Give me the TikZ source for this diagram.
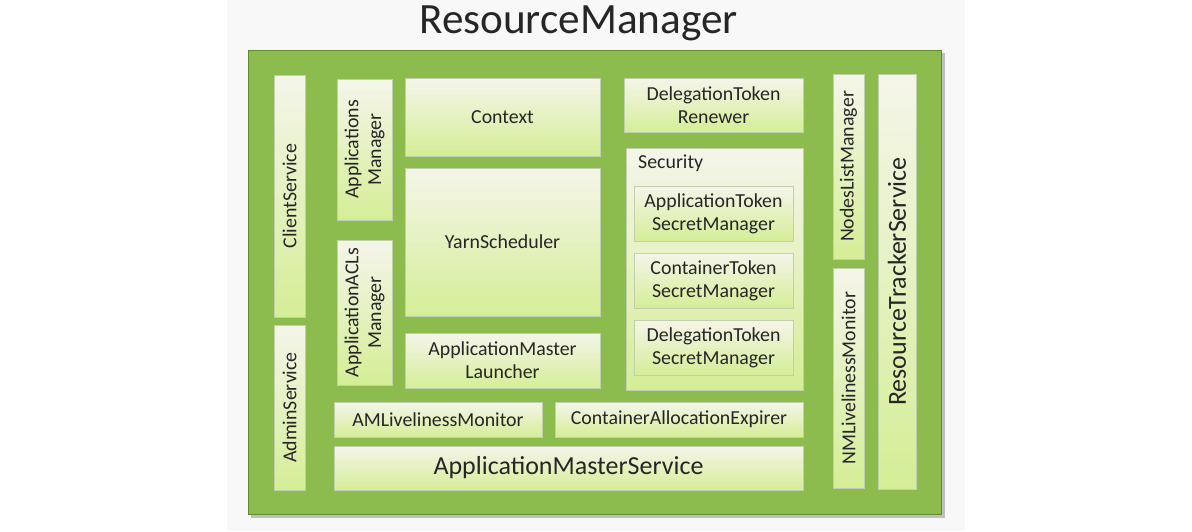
\documentclass[tikz,border=0pt]{standalone}
\usepackage{fontspec}
\setmainfont{Carlito}
\usepackage{xcolor}
\usepackage{tikz}
\usetikzlibrary{shadows}

\definecolor{rmgreen}{RGB}{141,188,78}
\definecolor{rmedge}{RGB}{98,138,48}
\definecolor{boxtop}{RGB}{245,245,234}
\definecolor{boxbot}{RGB}{212,238,150}
\definecolor{panel}{RGB}{248,248,248}
\definecolor{ink}{RGB}{38,38,38}

\begin{document}
\begin{tikzpicture}[x=0.02cm, y=-0.02cm, every node/.style={font=\fontsize{11.3}{12.9}\selectfont, text=ink}]
  % Styles
  \tikzstyle{blk}=[rectangle, draw=rmedge!40, line width=0.3pt, top color=boxtop, bottom color=boxbot, align=center, inner sep=1pt,
                   drop shadow={shadow xshift=0.6pt, shadow yshift=-0.8pt, opacity=0.35}]
  \tikzstyle{vblk}=[blk, rotate=90]
  \tikzstyle{big}=[font=\fontsize{14.8}{17}\selectfont]

  \useasboundingbox (0,0) rectangle (1192,531);
  \fill[panel] (227,0) rectangle (965,531);

  % Title and frame
  \node[anchor=base, font=\fontsize{24.6}{28}\selectfont] (title) at (578.5,33) {ResourceManager};
  \fill[black!25] (251,53) rectangle (945,518);
  \node[rectangle, draw=rmedge, line width=0.6pt, fill=rmgreen, minimum width=13.88cm, minimum height=9.3cm] (rm) at (595,282.5) {};

  % Left column
  \node[vblk, minimum width=4.84cm, minimum height=0.62cm] (client) at (289.5,196) {ClientService};
  \node[vblk, minimum width=3.3cm, minimum height=0.62cm] (admin) at (289.5,407.5) {AdminService};
  \node[vblk, minimum width=2.82cm, minimum height=1.1cm] (appsmgr) at (364.5,149.5) {Applications\\Manager};
  \node[vblk, minimum width=2.9cm, minimum height=1.1cm] (aclsmgr) at (364.5,312.5) {ApplicationACLs\\Manager};

  % Middle column
  \node[blk, minimum width=3.9cm, minimum height=1.56cm] (context) at (502.5,117) {Context};
  \node[blk, minimum width=3.9cm, minimum height=2.96cm] (sched) at (502.5,242) {YarnScheduler};
  \node[blk, minimum width=3.9cm, minimum height=1.1cm] (amlauncher) at (502.5,360.5) {ApplicationMaster\\Launcher};

  % Security
  \node[blk, minimum width=3.58cm, minimum height=1.08cm] (renewer) at (713.5,105) {DelegationToken\\Renewer};
  \node[blk, minimum width=3.54cm, minimum height=4.84cm] (security) at (714.5,269) {};
  \node[anchor=base west] (seclabel) at (632,168) {Security};
  \node[blk, minimum width=3.18cm, minimum height=1.1cm] (appsecret) at (713.5,213.5) {ApplicationToken\\SecretManager};
  \node[blk, minimum width=3.18cm, minimum height=1.1cm] (contsecret) at (713.5,280.5) {ContainerToken\\SecretManager};
  \node[blk, minimum width=3.18cm, minimum height=1.1cm] (delsecret) at (713.5,347.5) {DelegationToken\\SecretManager};

  % Bottom rows
  \node[blk, minimum width=4.16cm, minimum height=0.7cm] (amlive) at (438,419.5) {AMLivelinessMonitor};
  \node[blk, minimum width=4.96cm, minimum height=0.7cm] (expirer) at (679,419.5) {ContainerAllocationExpirer};
  \node[blk, big, minimum width=9.38cm, minimum height=0.88cm] (amservice) at (568.5,468) {ApplicationMasterService};

  % Right column
  \node[vblk, minimum width=3.7cm, minimum height=0.62cm] (nodeslist) at (848.5,166.5) {NodesListManager};
  \node[vblk, minimum width=4.4cm, minimum height=0.62cm] (nmlive) at (848.5,378) {NMLivelinessMonitor};
  \node[vblk, big, minimum width=8.3cm, minimum height=0.76cm] (tracker) at (897,281.5) {ResourceTrackerService};
\end{tikzpicture}
\end{document}
